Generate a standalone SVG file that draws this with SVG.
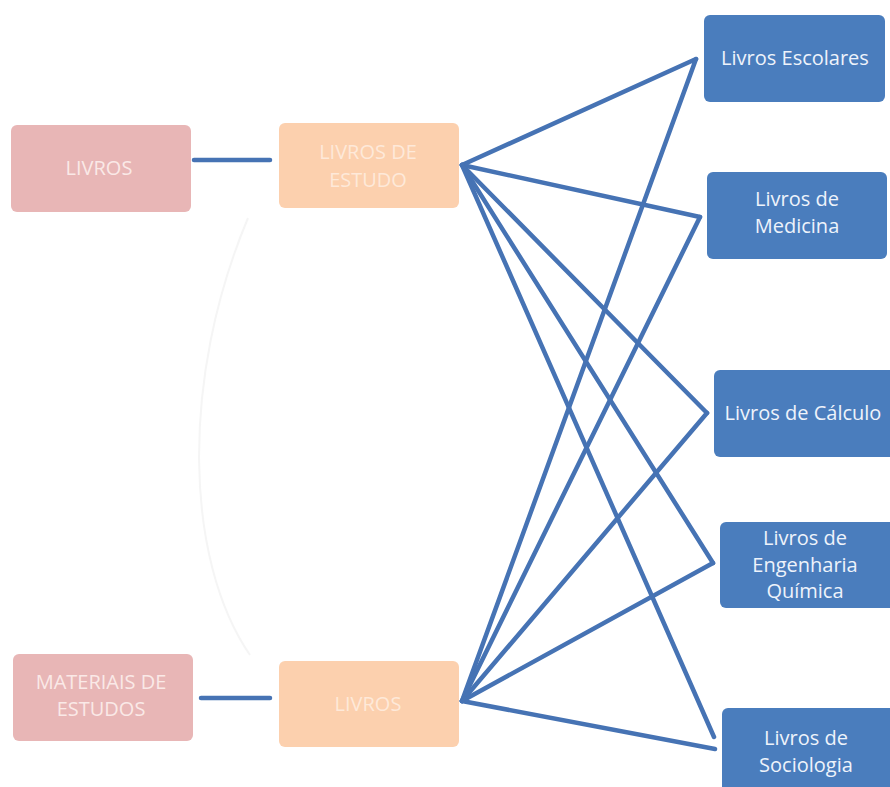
<svg xmlns="http://www.w3.org/2000/svg" width="890" height="787" viewBox="0 0 890 787">
  <style>
    .pink { fill: #e8b6b6; }
    .peach { fill: #fcd0ae; }
    .blue { fill: #4a7dbd; }
    .lbl { font-family: "Open Sans", "Noto Sans", "Liberation Sans", sans-serif; font-size: 20px; text-anchor: middle; }
    .lpink { fill: #fae9e7; }
    .lpeach { fill: #fee9d9; }
    .lblue { fill: #eef3fb; }
    .link { stroke: #4673b4; stroke-width: 4.5; fill: none; stroke-linecap: round; }
  </style>
  <rect width="890" height="787" fill="#ffffff"/>

  <g id="connectors">
    <path d="M248 218 C 180 380, 185 560, 250 655" stroke="#f5f5f5" stroke-width="2" fill="none"/>
    <line class="link" x1="194" y1="160" x2="270" y2="160"/>
    <line class="link" x1="201" y1="698" x2="270" y2="698"/>
    <!-- from LIVROS DE ESTUDO -->
    <line class="link" x1="462" y1="165" x2="696" y2="59"/>
    <line class="link" x1="462" y1="165" x2="700" y2="217"/>
    <line class="link" x1="462" y1="165" x2="707" y2="413"/>
    <line class="link" x1="462" y1="165" x2="713" y2="563"/>
    <line class="link" x1="462" y1="165" x2="714" y2="737"/>
    <!-- from LIVROS -->
    <line class="link" x1="462" y1="701" x2="696" y2="59"/>
    <line class="link" x1="462" y1="701" x2="700" y2="217"/>
    <line class="link" x1="462" y1="701" x2="707" y2="413"/>
    <line class="link" x1="462" y1="701" x2="713" y2="563"/>
    <line class="link" x1="462" y1="701" x2="715" y2="749"/>
  </g>

  <g id="livros-top">
    <rect class="pink" x="11" y="125" width="180" height="87" rx="6"/>
    <text class="lbl lpink" x="99" y="175">LIVROS</text>
  </g>
  <g id="livros-de-estudo">
    <rect class="peach" x="279" y="123" width="180" height="85" rx="6"/>
    <text class="lbl lpeach" x="368" y="159">LIVROS DE</text>
    <text class="lbl lpeach" x="368" y="187">ESTUDO</text>
  </g>
  <g id="materiais-de-estudos">
    <rect class="pink" x="13" y="654" width="180" height="87" rx="6"/>
    <text class="lbl lpink" x="101" y="689">MATERIAIS DE</text>
    <text class="lbl lpink" x="101" y="716">ESTUDOS</text>
  </g>
  <g id="livros-bottom">
    <rect class="peach" x="279" y="661" width="180" height="86" rx="6"/>
    <text class="lbl lpeach" x="368" y="711">LIVROS</text>
  </g>

  <g id="livros-escolares">
    <rect class="blue" x="704" y="15" width="181" height="87" rx="6"/>
    <text class="lbl lblue" x="795" y="65">Livros Escolares</text>
  </g>
  <g id="livros-de-medicina">
    <rect class="blue" x="707" y="172" width="180" height="87" rx="6"/>
    <text class="lbl lblue" x="797" y="206">Livros de</text>
    <text class="lbl lblue" x="797" y="233">Medicina</text>
  </g>
  <g id="livros-de-calculo">
    <rect class="blue" x="714" y="370" width="182" height="87" rx="6"/>
    <text class="lbl lblue" x="803" y="420">Livros de Cálculo</text>
  </g>
  <g id="livros-de-engenharia-quimica">
    <rect class="blue" x="720" y="522" width="176" height="86" rx="6"/>
    <text class="lbl lblue" x="805" y="545">Livros de</text>
    <text class="lbl lblue" x="805" y="572">Engenharia</text>
    <text class="lbl lblue" x="805" y="598">Química</text>
  </g>
  <g id="livros-de-sociologia">
    <rect class="blue" x="722" y="708" width="176" height="90" rx="6"/>
    <text class="lbl lblue" x="806" y="745">Livros de</text>
    <text class="lbl lblue" x="806" y="772">Sociologia</text>
  </g>
</svg>
